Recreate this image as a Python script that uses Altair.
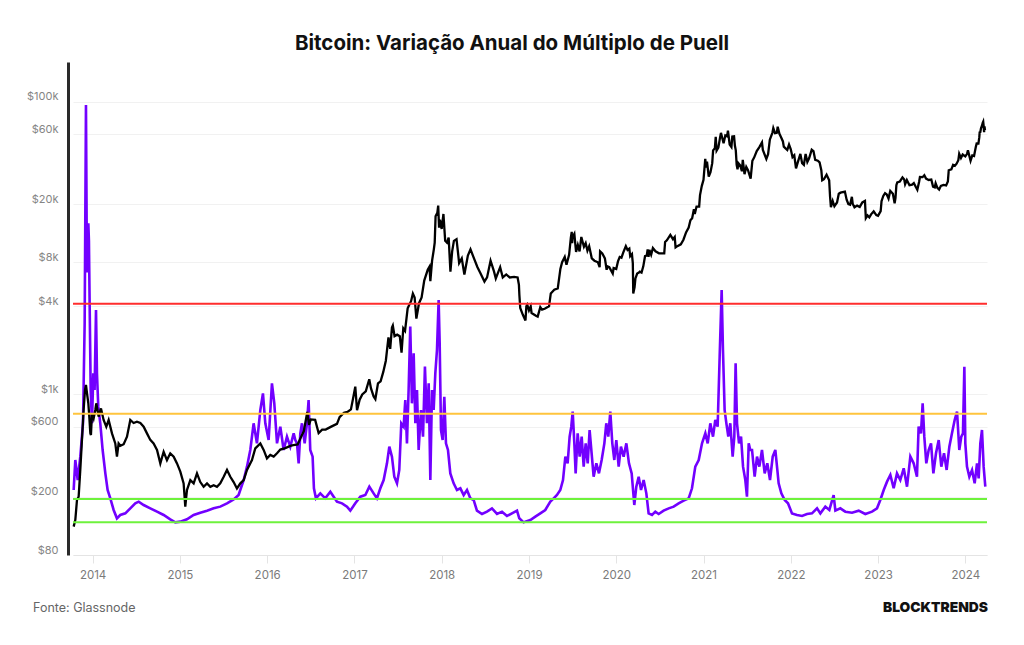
import altair as alt
import pandas as pd

# Bitcoin price (USD); dates as decimal years
price_year = [
    2013.783, 2013.802, 2013.821, 2013.840, 2013.859, 2013.878, 2013.897, 2013.913, 2013.924, 2013.936,
    2013.951, 2013.962, 2013.974, 2013.981, 2013.993, 2014.012, 2014.031, 2014.042, 2014.069, 2014.096,
    2014.126, 2014.157, 2014.184, 2014.222, 2014.260, 2014.279, 2014.298, 2014.318, 2014.356, 2014.394,
    2014.432, 2014.470, 2014.508, 2014.547, 2014.585, 2014.623, 2014.661, 2014.699, 2014.738, 2014.776,
    2014.814, 2014.852, 2014.890, 2014.929, 2014.967, 2015.005, 2015.043, 2015.062, 2015.081, 2015.120,
    2015.158, 2015.196, 2015.234, 2015.272, 2015.311, 2015.349, 2015.387, 2015.425, 2015.463, 2015.502,
    2015.540, 2015.578, 2015.616, 2015.654, 2015.693, 2015.731, 2015.769, 2015.826, 2015.864, 2015.922,
    2015.960, 2015.998, 2016.036, 2016.075, 2016.113, 2016.151, 2016.208, 2016.265, 2016.300, 2016.350,
    2016.400, 2016.420, 2016.460, 2016.480, 2016.500, 2016.550, 2016.590, 2016.630, 2016.670, 2016.740,
    2016.800, 2016.830, 2016.880, 2016.920, 2016.960, 2016.990, 2017.010, 2017.030, 2017.060, 2017.090,
    2017.130, 2017.170, 2017.190, 2017.220, 2017.240, 2017.270, 2017.300, 2017.330, 2017.360, 2017.390,
    2017.410, 2017.430, 2017.440, 2017.460, 2017.490, 2017.520, 2017.540, 2017.560, 2017.580, 2017.610,
    2017.650, 2017.670, 2017.690, 2017.710, 2017.740, 2017.770, 2017.800, 2017.840, 2017.860, 2017.870,
    2017.890, 2017.910, 2017.920, 2017.930, 2017.950, 2017.960, 2017.970, 2017.980, 2018.000, 2018.020,
    2018.040, 2018.060, 2018.080, 2018.100, 2018.120, 2018.140, 2018.170, 2018.200, 2018.230, 2018.260,
    2018.300, 2018.330, 2018.370, 2018.410, 2018.440, 2018.490, 2018.520, 2018.560, 2018.600, 2018.620,
    2018.670, 2018.700, 2018.740, 2018.780, 2018.830, 2018.870, 2018.885, 2018.890, 2018.900, 2018.930,
    2018.960, 2018.970, 2018.980, 2019.000, 2019.020, 2019.030, 2019.080, 2019.100, 2019.130, 2019.150,
    2019.180, 2019.230, 2019.250, 2019.290, 2019.330, 2019.360, 2019.380, 2019.410, 2019.430, 2019.460,
    2019.480, 2019.490, 2019.495, 2019.500, 2019.520, 2019.540, 2019.560, 2019.580, 2019.600, 2019.630,
    2019.650, 2019.670, 2019.690, 2019.720, 2019.750, 2019.790, 2019.810, 2019.815, 2019.840, 2019.870,
    2019.890, 2019.900, 2019.920, 2019.960, 2019.970, 2020.000, 2020.020, 2020.040, 2020.060, 2020.080,
    2020.110, 2020.130, 2020.150, 2020.160, 2020.180, 2020.190, 2020.195, 2020.210, 2020.220, 2020.240,
    2020.260, 2020.270, 2020.290, 2020.310, 2020.330, 2020.350, 2020.360, 2020.370, 2020.380, 2020.400,
    2020.420, 2020.450, 2020.490, 2020.520, 2020.550, 2020.560, 2020.580, 2020.620, 2020.650, 2020.670,
    2020.680, 2020.700, 2020.740, 2020.770, 2020.800, 2020.830, 2020.850, 2020.870, 2020.890, 2020.900,
    2020.920, 2020.950, 2020.960, 2020.980, 2021.000, 2021.020, 2021.030, 2021.040, 2021.060, 2021.080,
    2021.100, 2021.110, 2021.130, 2021.140, 2021.150, 2021.170, 2021.190, 2021.200, 2021.220, 2021.230,
    2021.250, 2021.270, 2021.280, 2021.300, 2021.320, 2021.330, 2021.350, 2021.360, 2021.370, 2021.380,
    2021.390, 2021.400, 2021.420, 2021.440, 2021.450, 2021.470, 2021.490, 2021.510, 2021.540, 2021.560,
    2021.580, 2021.610, 2021.640, 2021.670, 2021.680, 2021.720, 2021.740, 2021.760, 2021.790, 2021.800,
    2021.820, 2021.840, 2021.850, 2021.870, 2021.890, 2021.910, 2021.920, 2021.940, 2021.960, 2021.980,
    2022.000, 2022.020, 2022.040, 2022.060, 2022.080, 2022.110, 2022.130, 2022.150, 2022.170, 2022.190,
    2022.210, 2022.240, 2022.260, 2022.280, 2022.310, 2022.330, 2022.350, 2022.360, 2022.380, 2022.410,
    2022.440, 2022.450, 2022.460, 2022.480, 2022.500, 2022.530, 2022.550, 2022.570, 2022.620, 2022.640,
    2022.660, 2022.680, 2022.700, 2022.710, 2022.730, 2022.760, 2022.790, 2022.820, 2022.850, 2022.860,
    2022.880, 2022.900, 2022.920, 2022.950, 2022.980, 2023.000, 2023.030, 2023.040, 2023.060, 2023.080,
    2023.100, 2023.120, 2023.140, 2023.170, 2023.190, 2023.200, 2023.210, 2023.220, 2023.250, 2023.280,
    2023.300, 2023.310, 2023.330, 2023.360, 2023.390, 2023.410, 2023.430, 2023.450, 2023.470, 2023.480,
    2023.510, 2023.530, 2023.550, 2023.580, 2023.610, 2023.630, 2023.650, 2023.660, 2023.680, 2023.700,
    2023.720, 2023.750, 2023.780, 2023.800, 2023.810, 2023.840, 2023.860, 2023.880, 2023.900, 2023.920,
    2023.930, 2023.950, 2023.970, 2024.000, 2024.020, 2024.030, 2024.050, 2024.060, 2024.080, 2024.100,
    2024.120, 2024.130, 2024.150, 2024.160, 2024.165, 2024.170, 2024.180, 2024.190, 2024.200, 2024.205,
    2024.210, 2024.215, 2024.220, 2024.225,
]
price_usd = [
    125, 139, 190, 200, 305, 489, 783, 1072, 1160, 1017,
    870, 705, 542, 528, 743, 687, 783, 870, 705, 803,
    669, 602, 669, 542, 463, 376, 463, 446, 457, 514,
    669, 638, 652, 638, 602, 542, 489, 463, 418, 338,
    406, 356, 396, 376, 338, 297, 247, 171, 222, 260,
    247, 289, 252, 234, 247, 234, 240, 234, 247, 274,
    305, 274, 252, 228, 247, 260, 305, 356, 428, 463,
    418, 366, 386, 376, 396, 420, 430, 445, 450, 455,
    530, 560, 760, 620, 675, 670, 545, 575, 575, 605,
    630, 700, 750, 760, 790, 975, 1130, 780, 920, 1000,
    1050, 1270, 1100, 970, 930, 1190, 1230, 1420, 1700, 2450,
    2050, 2870, 2960, 2500, 2560, 2500, 1930, 2830, 2720, 3880,
    4350, 4890, 4600, 3300, 4200, 4600, 6000, 7100, 7450, 5950,
    8200, 9800, 10900, 16500, 17400, 19500, 13800, 15600, 13500, 17100,
    11200, 10900, 11800, 6900, 9500, 11200, 11500, 7900, 8500, 6600,
    8900, 9800, 8500, 7400, 6800, 5900, 6300, 8200, 6900, 6200,
    7400, 6300, 6600, 6300, 6350, 6300, 5600, 4800, 3900, 3500,
    3200, 4000, 4100, 3750, 4000, 3600, 3450, 3400, 3950, 3800,
    3850, 4000, 4900, 5200, 5300, 7200, 8000, 8700, 7700, 9000,
    11800, 12900, 10800, 11900, 12500, 9400, 10500, 9500, 11900, 10200,
    10800, 9600, 10300, 8500, 8200, 8000, 7400, 9500, 9200, 8500,
    7100, 7500, 7400, 6700, 7300, 7200, 8100, 8700, 8600, 9300,
    10300, 9700, 9900, 8800, 9100, 7900, 4900, 5400, 6200, 6700,
    6800, 6900, 6800, 7500, 8800, 8900, 9800, 8700, 9700, 9000,
    10000, 9500, 9200, 9200, 9200, 11000, 11300, 12300, 11500, 11900,
    10100, 10300, 10600, 11400, 12800, 13800, 15500, 16000, 18400, 17100,
    19200, 19200, 23000, 26500, 29300, 40700, 35500, 39000, 30800, 33000,
    38000, 46500, 48000, 57500, 46300, 48500, 57000, 61200, 55000, 52000,
    58800, 58000, 63500, 51000, 49000, 57800, 58000, 50000, 46500, 37000,
    34500, 38000, 36700, 33500, 40000, 32000, 35800, 34000, 29800, 39500,
    41500, 46000, 49000, 52700, 46800, 40600, 43800, 55000, 61500, 66000,
    61000, 61300, 67500, 60300, 57000, 53500, 49300, 48000, 46800, 51000,
    47300, 41800, 43000, 35000, 38500, 44000, 38000, 37000, 44000, 38700,
    41000, 47000, 46000, 40000, 39500, 38500, 34000, 29000, 29500, 31700,
    29000, 22500, 19000, 21000, 19300, 20500, 23500, 23900, 24300, 21400,
    20000, 19800, 22400, 20000, 19000, 19500, 19100, 20500, 21000, 16000,
    16700, 16200, 17000, 17800, 16800, 16600, 17900, 20900, 22700, 23700,
    23200, 21800, 24600, 23500, 20200, 22000, 26900, 28100, 28500, 30400,
    29400, 27300, 29200, 26900, 27100, 27800, 26300, 25000, 28300, 30600,
    30500, 31400, 29800, 29200, 29400, 26300, 26000, 27700, 25800, 25100,
    26600, 27000, 26800, 28500, 34000, 34500, 37000, 36500, 37700, 39800,
    44000, 41200, 43600, 42300, 44000, 46600, 41700, 39500, 43000, 42600,
    49000, 51800, 51700, 57000, 62500, 61200, 66000, 68300, 72000, 73100,
    68400, 62000, 67900, 64000,
]

# Puell Multiple; dates as decimal years
puell_year = [
    2013.783, 2013.802, 2013.829, 2013.859, 2013.890, 2013.909, 2013.924, 2013.935, 2013.951, 2013.958,
    2013.966, 2013.978, 2013.993, 2014.008, 2014.023, 2014.039, 2014.050, 2014.065, 2014.088, 2014.115,
    2014.146, 2014.172, 2014.203, 2014.241, 2014.279, 2014.317, 2014.375, 2014.432, 2014.489, 2014.528,
    2014.585, 2014.661, 2014.738, 2014.814, 2014.890, 2014.948, 2015.005, 2015.081, 2015.158, 2015.234,
    2015.311, 2015.387, 2015.463, 2015.540, 2015.616, 2015.673, 2015.731, 2015.769, 2015.807, 2015.845,
    2015.883, 2015.922, 2015.952, 2015.979, 2016.017, 2016.055, 2016.082, 2016.113, 2016.151, 2016.189,
    2016.227, 2016.265, 2016.304, 2016.323, 2016.342, 2016.361, 2016.380, 2016.399, 2016.430, 2016.456,
    2016.475, 2016.494, 2016.521, 2016.536, 2016.559, 2016.609, 2016.666, 2016.724, 2016.762, 2016.800,
    2016.858, 2016.915, 2016.953, 2017.010, 2017.068, 2017.125, 2017.171, 2017.220, 2017.258, 2017.297,
    2017.335, 2017.373, 2017.400, 2017.430, 2017.457, 2017.488, 2017.514, 2017.537, 2017.564, 2017.583,
    2017.602, 2017.621, 2017.640, 2017.659, 2017.679, 2017.698, 2017.717, 2017.736, 2017.763, 2017.786,
    2017.808, 2017.831, 2017.851, 2017.870, 2017.889, 2017.908, 2017.927, 2017.946, 2017.965, 2017.977,
    2017.992, 2018.011, 2018.030, 2018.049, 2018.072, 2018.099, 2018.137, 2018.175, 2018.214, 2018.252,
    2018.290, 2018.328, 2018.366, 2018.404, 2018.462, 2018.519, 2018.576, 2018.634, 2018.691, 2018.748,
    2018.805, 2018.863, 2018.889, 2018.939, 2018.958, 2019.016, 2019.073, 2019.130, 2019.187, 2019.245,
    2019.283, 2019.321, 2019.359, 2019.390, 2019.417, 2019.443, 2019.466, 2019.485, 2019.501, 2019.520,
    2019.535, 2019.558, 2019.581, 2019.604, 2019.627, 2019.650, 2019.673, 2019.695, 2019.718, 2019.741,
    2019.772, 2019.802, 2019.833, 2019.864, 2019.886, 2019.909, 2019.932, 2019.955, 2019.978, 2020.001,
    2020.028, 2020.054, 2020.085, 2020.116, 2020.146, 2020.177, 2020.207, 2020.230, 2020.257, 2020.284,
    2020.314, 2020.345, 2020.371, 2020.410, 2020.448, 2020.486, 2020.543, 2020.601, 2020.658, 2020.715,
    2020.773, 2020.830, 2020.868, 2020.906, 2020.945, 2020.983, 2021.021, 2021.048, 2021.078, 2021.109,
    2021.135, 2021.162, 2021.185, 2021.208, 2021.223, 2021.242, 2021.262, 2021.284, 2021.307, 2021.334,
    2021.353, 2021.368, 2021.384, 2021.407, 2021.430, 2021.453, 2021.479, 2021.498, 2021.518, 2021.536,
    2021.556, 2021.586, 2021.613, 2021.640, 2021.670, 2021.701, 2021.731, 2021.762, 2021.793, 2021.823,
    2021.846, 2021.861, 2021.892, 2021.930, 2021.968, 2022.014, 2022.071, 2022.129, 2022.186, 2022.243,
    2022.301, 2022.339, 2022.396, 2022.442, 2022.491, 2022.511, 2022.568, 2022.625, 2022.702, 2022.778,
    2022.854, 2022.931, 2022.988, 2023.026, 2023.065, 2023.103, 2023.141, 2023.179, 2023.217, 2023.255,
    2023.294, 2023.332, 2023.370, 2023.408, 2023.446, 2023.465, 2023.492, 2023.511, 2023.530, 2023.553,
    2023.580, 2023.607, 2023.634, 2023.664, 2023.695, 2023.725, 2023.756, 2023.786, 2023.817, 2023.847,
    2023.878, 2023.905, 2023.931, 2023.954, 2023.973, 2023.989, 2024.000, 2024.019, 2024.046, 2024.077,
    2024.107, 2024.134, 2024.153, 2024.172, 2024.191, 2024.210, 2024.229,
]
puell_value = [
    1.035, 1.513, 1.194, 1.566, 2.097, 3.689, 7.166, 4.500, 5.281, 5.000,
    4.007, 2.627, 2.097, 2.893, 2.627, 3.901, 2.893, 2.362, 2.097, 1.672,
    1.300, 1.035, 0.902, 0.717, 0.584, 0.637, 0.663, 0.743, 0.823, 0.849,
    0.796, 0.743, 0.690, 0.637, 0.568, 0.520, 0.531, 0.568, 0.637, 0.674,
    0.706, 0.743, 0.770, 0.823, 0.886, 0.955, 1.194, 1.407, 1.672, 2.097,
    1.778, 2.309, 2.574, 2.097, 1.831, 2.734, 2.415, 1.778, 2.044, 1.672,
    1.884, 1.725, 1.937, 1.831, 1.778, 1.460, 1.937, 2.097, 1.778, 2.097,
    2.468, 1.672, 1.566, 1.062, 0.902, 0.982, 0.902, 1.008, 0.929, 0.849,
    0.823, 0.770, 0.706, 0.823, 0.929, 0.955, 1.088, 0.982, 0.902, 1.062,
    1.194, 1.460, 1.725, 1.566, 1.247, 1.141, 1.354, 2.097, 2.044, 2.468,
    1.778, 2.627, 3.636, 2.415, 3.211, 2.097, 2.627, 1.672, 2.309, 1.884,
    2.999, 2.097, 2.734, 1.194, 2.627, 2.309, 2.893, 3.264, 4.060, 3.370,
    1.990, 1.831, 2.521, 1.778, 1.672, 1.300, 1.141, 1.035, 1.062, 0.955,
    1.035, 0.902, 0.876, 0.706, 0.653, 0.690, 0.743, 0.653, 0.690, 0.621,
    0.663, 0.706, 0.584, 0.520, 0.531, 0.557, 0.610, 0.663, 0.717, 0.849,
    0.902, 0.955, 1.035, 1.194, 1.566, 1.460, 1.884, 2.044, 2.282, 1.778,
    1.300, 1.937, 1.566, 1.884, 1.407, 1.778, 1.460, 1.990, 1.619, 1.247,
    1.460, 1.300, 1.513, 1.778, 2.097, 1.884, 2.282, 1.778, 1.513, 1.831,
    1.407, 1.725, 1.566, 1.778, 1.460, 1.300, 0.796, 1.088, 1.247, 1.035,
    1.194, 0.982, 0.663, 0.637, 0.690, 0.653, 0.706, 0.743, 0.770, 0.823,
    0.865, 0.902, 1.062, 1.407, 1.513, 1.778, 1.937, 1.778, 2.097, 1.884,
    2.150, 2.044, 3.158, 4.220, 3.264, 2.309, 2.097, 1.884, 2.097, 1.566,
    1.884, 3.052, 2.097, 1.778, 1.884, 1.407, 1.194, 0.929, 1.778, 1.672,
    1.672, 1.247, 1.566, 1.407, 1.672, 1.300, 1.460, 1.194, 1.566, 1.672,
    1.354, 1.141, 0.982, 0.876, 0.823, 0.663, 0.637, 0.621, 0.653, 0.663,
    0.743, 0.663, 0.770, 0.717, 0.955, 0.706, 0.743, 0.690, 0.674, 0.706,
    0.653, 0.690, 0.743, 0.876, 1.035, 1.168, 1.274, 1.062, 1.300, 1.194,
    1.380, 1.088, 1.566, 1.460, 1.247, 2.044, 1.937, 2.415, 1.884, 1.460,
    1.672, 1.778, 1.300, 1.619, 1.831, 1.407, 1.619, 1.354, 1.725, 1.937,
    2.150, 2.282, 1.672, 1.884, 1.937, 2.999, 1.778, 1.407, 1.247, 1.354,
    1.141, 1.460, 1.221, 1.778, 1.990, 1.407, 1.088,
]

# Puell Multiple signal levels
level_value = [4.0, 2.25, 0.89, 0.52]
level_color = ["#ff2d2d", "#ffc43d", "#6ef23c", "#6ef23c"]

price_ticks = [80, 200, 600, 1000, 4000, 8000, 20000, 60000, 100000]
year_ticks = list(range(2014, 2025))

price_df = pd.DataFrame({"year": price_year, "price": price_usd})
puell_df = pd.DataFrame({"year": puell_year, "puell": puell_value})
level_df = pd.DataFrame({"level": level_value, "color": level_color})

FONT = "Inter"

x_enc = alt.X(
    "year:Q",
    scale=alt.Scale(domain=[2013.7754, 2024.2484], nice=False, zero=False),
    axis=alt.Axis(
        values=year_ticks, format="d", title=None, grid=False,
        domainColor="#e4e4e4", tickColor="#e4e4e4", tickSize=8,
        labelColor="#7a7a7a", labelFontSize=11.5, labelFont=FONT, labelPadding=6,
    ),
)

puell_scale = alt.Scale(domain=[0, 7.85], nice=False, zero=False)

price_line = alt.Chart(price_df).mark_line(color="#000000", strokeWidth=2.3).encode(
    x=x_enc,
    y=alt.Y(
        "price:Q",
        scale=alt.Scale(type="log", domain=[80, 186700], nice=False),
        axis=alt.Axis(
            values=price_ticks, title=None, orient="left", offset=5,
            labelExpr="datum.value >= 1000 ? '$' + format(datum.value / 1000, 'd') + 'k' : '$' + format(datum.value, 'd')",
            labelColor="#858585", labelFontSize=11, labelFont=FONT, labelPadding=10,
            labelOffset=-5, ticks=False,
            domainColor="#2a2a2a", domainWidth=3,
            grid=True, gridColor="#f1f1f1", gridWidth=1,
        ),
    ),
)

puell_line = alt.Chart(puell_df).mark_line(color="#7200ff", strokeWidth=2.6).encode(
    x=x_enc,
    y=alt.Y("puell:Q", scale=puell_scale, axis=None),
)

level_rules = alt.Chart(level_df).mark_rule(strokeWidth=2).encode(
    y=alt.Y("level:Q", scale=puell_scale, axis=None),
    color=alt.Color("color:N", scale=None),
)

source_text = alt.Chart(pd.DataFrame({"t": ["Fonte: Glassnode"]})).mark_text(
    align="left", baseline="middle", font=FONT, fontSize=12.5, color="#666666"
).encode(text="t:N", x=alt.value(-40), y=alt.value(546))

brand_text = alt.Chart(pd.DataFrame({"t": ["BLOCKTRENDS"]})).mark_text(
    align="right", baseline="middle", font=FONT, fontSize=13.8, fontWeight=900, color="#111111"
).encode(text="t:N", x=alt.value(915), y=alt.value(546))

chart = (
    alt.layer(puell_line, price_line, level_rules, source_text, brand_text)
    .resolve_scale(y="independent")
    .properties(
        width=914,
        height=493,
        background="#ffffff",
        title=alt.TitleParams(
            text="Bitcoin: Variação Anual do Múltiplo de Puell",
            font=FONT, fontSize=20.5, fontWeight=700, color="#111111",
            anchor="middle", dx=-18, offset=8,
        ),
        autosize=alt.AutoSizeParams(type="none"),
        padding={"left": 73, "top": 62, "right": 37, "bottom": 90},
    )
    .configure_view(stroke="transparent", strokeWidth=0)
)

chart.save("out.html", embed_options={"renderer": "svg", "actions": False})
